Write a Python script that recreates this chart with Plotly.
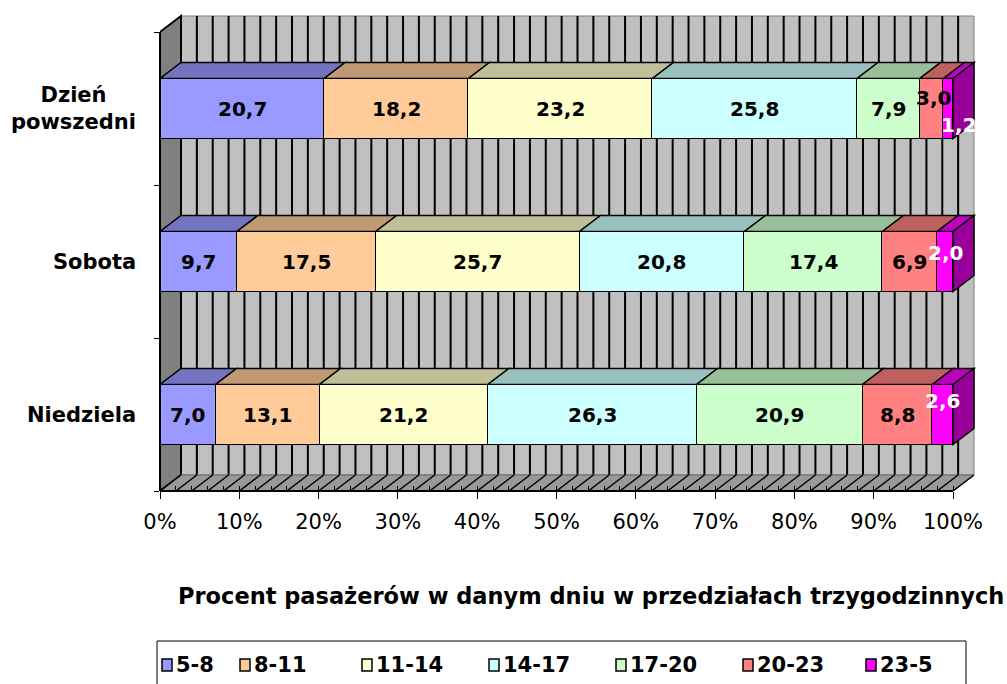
import plotly.graph_objects as go

# ---------------- data ----------------
categories = ["Dzień<br>powszedni", "Sobota", "Niedziela"]
series_names = ["5-8", "8-11", "11-14", "14-17", "17-20", "20-23", "23-5"]
s_5_8 = [20.7, 9.7, 7.0]
s_8_11 = [18.2, 17.5, 13.1]
s_11_14 = [23.2, 25.7, 21.2]
s_14_17 = [25.8, 20.8, 26.3]
s_17_20 = [7.9, 17.4, 20.9]
s_20_23 = [3.0, 6.9, 8.8]
s_23_5 = [1.2, 2.0, 2.6]
series_values = [s_5_8, s_8_11, s_11_14, s_14_17, s_17_20, s_20_23, s_23_5]
x_tick_vals = [0, 10, 20, 30, 40, 50, 60, 70, 80, 90, 100]
x_tick_text = ["0%", "10%", "20%", "30%", "40%", "50%", "60%", "70%", "80%", "90%", "100%"]
title_text = "Procent pasażerów w danym dniu w przedziałach trzygodzinnych"

# ---------------- styles ----------------
front_colors = ["#9999FF", "#FFCC99", "#FFFFCC", "#CCFFFF", "#CCFFCC", "#FF8080", "#FF00FF"]
top_colors = ["#7373BF", "#BF9973", "#BFBF99", "#99BFBF", "#99BF99", "#BF6060", "#BF00BF"]
side_colors = ["#5C5C99", "#997A5C", "#99997A", "#7A9999", "#7A997A", "#994D4D", "#990099"]
label_colors = ["black", "black", "black", "black", "black", "black", "white"]
# label nudges (px) used by the original chart to avoid overlaps
label_shift = {(0, 5): (2, 11), (0, 6): (10, -16), (1, 6): (0, 9), (2, 6): (0, 14)}

FONT = "DejaVu Sans"
W, H = 1007, 684
ML, MR, MT, MB = 160, 30, 13, 193
PW, PH = W - ML - MR, H - MT - MB
PXX = 7.93            # px per percent
PXY = 153.0           # px per category
XMAX = PW / PXX
YMAX = PH / PXY
DX = 21 / PXX         # depth offset in data units
DY = 16 / PXY
BAR_H = 60 / PXY
NCAT = len(categories)


def px(xp):
    return (xp - ML) / PW


def py(yp):
    return (H - MB - yp) / PH


def poly(pts, fill, line="black", lw=1.5, layer="below", ref="data"):
    d = "M" + " L".join(f"{x},{y}" for x, y in pts) + " Z"
    s = dict(type="path", path=d, fillcolor=fill, line=dict(color=line, width=lw), layer=layer)
    if ref == "data":
        s.update(xref="x", yref="y")
    else:
        s.update(xref="paper", yref="paper")
    return s


def line(x0, y0, x1, y1, color="black", lw=1.5, layer="below", ref="data"):
    s = dict(type="line", x0=x0, y0=y0, x1=x1, y1=y1, line=dict(color=color, width=lw), layer=layer)
    if ref == "data":
        s.update(xref="x", yref="y")
    else:
        s.update(xref="paper", yref="paper")
    return s


shapes = []
# back wall
shapes.append(poly([(DX, DY), (100 + DX, DY), (100 + DX, NCAT + DY), (DX, NCAT + DY)],
                   "#C0C0C0", line="#808080", lw=1))
# wall gridlines every 2 %
for g in range(0, 100, 2):
    shapes.append(line(g + DX, DY, g + DX, NCAT + DY, lw=2))
# left wall
shapes.append(poly([(0, 0), (0, NCAT), (DX, NCAT + DY), (DX, DY)], "#808080", lw=2))
# floor
shapes.append(poly([(0, 0), (100, 0), (100 + DX, DY), (DX, DY)], "#999999", line="#666666", lw=1))
for g in range(0, 101, 2):
    shapes.append(line(g, 0, g + DX, DY, lw=1.5))

# bars: normalised (100 % stacked)
totals = [sum(s[i] for s in series_values) for i in range(NCAT)]
norm = [[s[i] / totals[i] * 100 for i in range(NCAT)] for s in series_values]
ypos = [NCAT - i - 0.5 for i in range(NCAT)]

annotations = []
fig = go.Figure()
for k, name in enumerate(series_names):
    fig.add_trace(go.Bar(
        x=norm[k], y=ypos, orientation="h", width=BAR_H, name=name,
        marker=dict(color=front_colors[k], line=dict(color="black", width=1.5)),
        showlegend=False, hoverinfo="skip"))

for i in range(NCAT):
    yc = ypos[i]
    yt = yc + BAR_H / 2
    yb = yc - BAR_H / 2
    cum = 0.0
    for k in range(len(series_names)):
        x0 = cum
        x1 = cum + norm[k][i]
        shapes.append(poly([(x0, yt), (x1, yt), (x1 + DX, yt + DY), (x0 + DX, yt + DY)], top_colors[k]))
        if k == len(series_names) - 1:
            shapes.append(poly([(x1, yb), (x1, yt), (x1 + DX, yt + DY), (x1 + DX, yb + DY)], side_colors[k]))
        xs, ys = label_shift.get((i, k), (0, 0))
        annotations.append(dict(
            x=(x0 + x1) / 2, y=yc, xref="x", yref="y", showarrow=False,
            text=f"{series_values[k][i]:.1f}".replace(".", ","), xshift=xs, yshift=ys,
            font=dict(family=FONT, size=20, color=label_colors[k], weight="bold")))
        cum = x1

# category labels (multi-line label centred as in the original)
for i, cat in enumerate(categories):
    annotations.append(dict(
        x=0, y=ypos[i], xref="paper", yref="y", showarrow=False, text=cat,
        xanchor="right", yanchor="middle", align="center", xshift=-22,
        font=dict(family=FONT, size=21, color="black", weight="bold")))

# front edges (not clipped)
shapes.append(line(px(160), py(491), px(160 + 100 * PXX), py(491), lw=2, layer="above", ref="paper"))
shapes.append(line(px(160), py(491), px(160), py(491 - NCAT * PXY), lw=2, layer="above", ref="paper"))

# title
annotations.append(dict(x=px(590.5), y=py(596), xref="paper", yref="paper", showarrow=False,
                        text=title_text, xanchor="center", yanchor="middle",
                        font=dict(family=FONT, size=22.5, color="black", weight="bold")))

# legend (drawn as in the original: box, small squares and bold labels)
leg_left = [162, 240, 362, 489, 616, 743, 866]
shapes.append(dict(type="rect", xref="paper", yref="paper", x0=px(157), x1=px(966),
                   y0=py(720), y1=py(641), line=dict(color="black", width=1), layer="above"))
for k, name in enumerate(series_names):
    L = leg_left[k]
    shapes.append(dict(type="rect", xref="paper", yref="paper", x0=px(L), x1=px(L + 10),
                       y0=py(671), y1=py(659), fillcolor=front_colors[k],
                       line=dict(color="black", width=1.5), layer="above"))
    annotations.append(dict(x=px(L + 12), y=py(665), xref="paper", yref="paper", showarrow=False,
                            text=name, xanchor="left", yanchor="middle",
                            font=dict(family=FONT, size=21, color="black", weight="bold")))

fig.update_layout(
    width=W, height=H, margin=dict(l=ML, r=MR, t=MT, b=MB, pad=0, autoexpand=False),
    paper_bgcolor="white", plot_bgcolor="white", barmode="stack", bargap=0,
    showlegend=False, hovermode=False,
    shapes=shapes, annotations=annotations,
    xaxis=dict(range=[0, XMAX], showgrid=False, zeroline=False, showline=False, automargin=False,
               tickmode="array", tickvals=x_tick_vals, ticktext=x_tick_text,
               ticks="outside", ticklen=7, tickwidth=1, tickcolor="black",
               ticklabelstandoff=5,
               tickfont=dict(family=FONT, size=21, color="black"),
               minor=dict(tickmode="array", tickvals=list(range(0, 101, 2)), ticks="inside",
                          ticklen=5, tickwidth=1, tickcolor="black")),
    yaxis=dict(range=[0, YMAX], showgrid=False, zeroline=False, showline=False, automargin=False,
               tickmode="array", tickvals=ypos, ticktext=categories, ticks="",
               showticklabels=False,
               minor=dict(tickmode="array", tickvals=list(range(0, NCAT + 1)), ticks="outside",
                          ticklen=5, tickwidth=1, tickcolor="black")),
)

fig.write_html("out.html")
